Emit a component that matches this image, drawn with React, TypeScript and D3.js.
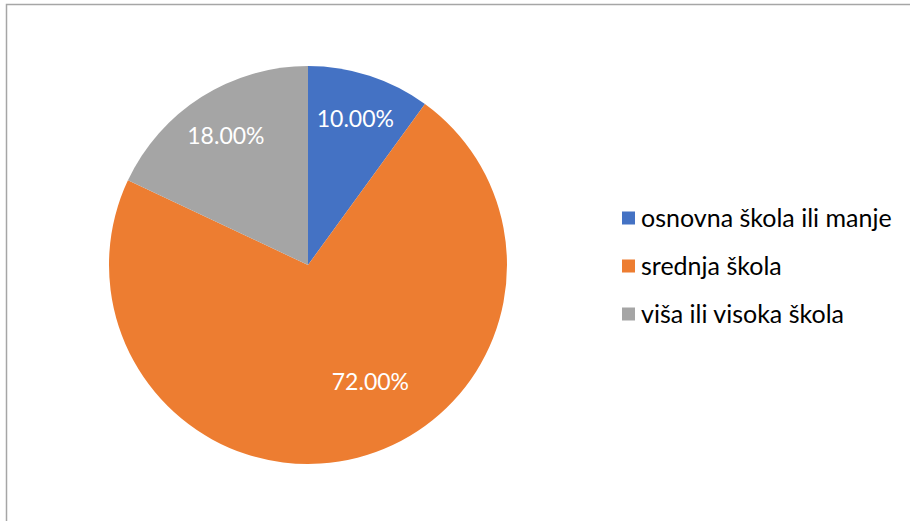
import React from "react";
import * as d3 from "d3";

const categories = ["osnovna škola ili manje", "srednja škola", "viša ili visoka škola"];
const values = [10, 72, 18];
const colors = ["#4472C4", "#ED7D31", "#A5A5A5"];

const W = 910;
const H = 521;

export default function App() {
  const cx = 308;
  const cy = 265;
  const r = 199;
  const pie = d3.pie<number>().sort(null).value((d) => d);
  const arcs = pie(values);
  const arc = d3.arc<d3.PieArcDatum<number>>().innerRadius(0).outerRadius(r);
  const total = d3.sum(values);
  const maxIdx = values.indexOf(d3.max(values) as number);
  const font = "Lato, 'Open Sans', sans-serif";

  return (
    <svg width={W} height={H} style={{ position: "absolute", left: 0, top: 0, background: "#fff" }}>
      <rect x={6.5} y={4.5} width={W + 10} height={H + 10} fill="#fff" stroke="#a6a6a6" strokeWidth={1.5} />
      <g transform={`translate(${cx},${cy})`}>
        {arcs.map((a, i) => (
          <path key={i} d={arc(a) || ""} fill={colors[i]} />
        ))}
        {arcs.map((a, i) => {
          const span = a.endAngle - a.startAngle;
          const ang = i === maxIdx ? a.startAngle + span * 0.447 : a.startAngle + span / 2;
          const lr = i === maxIdx ? r * 0.665 : r * 0.77;
          const x = Math.sin(ang) * lr;
          const y = -Math.cos(ang) * lr;
          return (
            <text key={i} x={x} y={y} dy="0.35em" textAnchor="middle" fill="#fff" fontFamily={font} fontSize={23}>
              {((values[i] / total) * 100).toFixed(2) + "%"}
            </text>
          );
        })}
      </g>
      <g transform="translate(622,218)">
        {categories.map((c, i) => (
          <g key={i} transform={`translate(0,${i * 48})`}>
            <rect x={0} y={-6.5} width={13} height={13} fill={colors[i]} />
            <text x={19} y={0} dy="0.35em" fill="#000" fontFamily={font} fontSize={25}>
              {c}
            </text>
          </g>
        ))}
      </g>
    </svg>
  );
}
